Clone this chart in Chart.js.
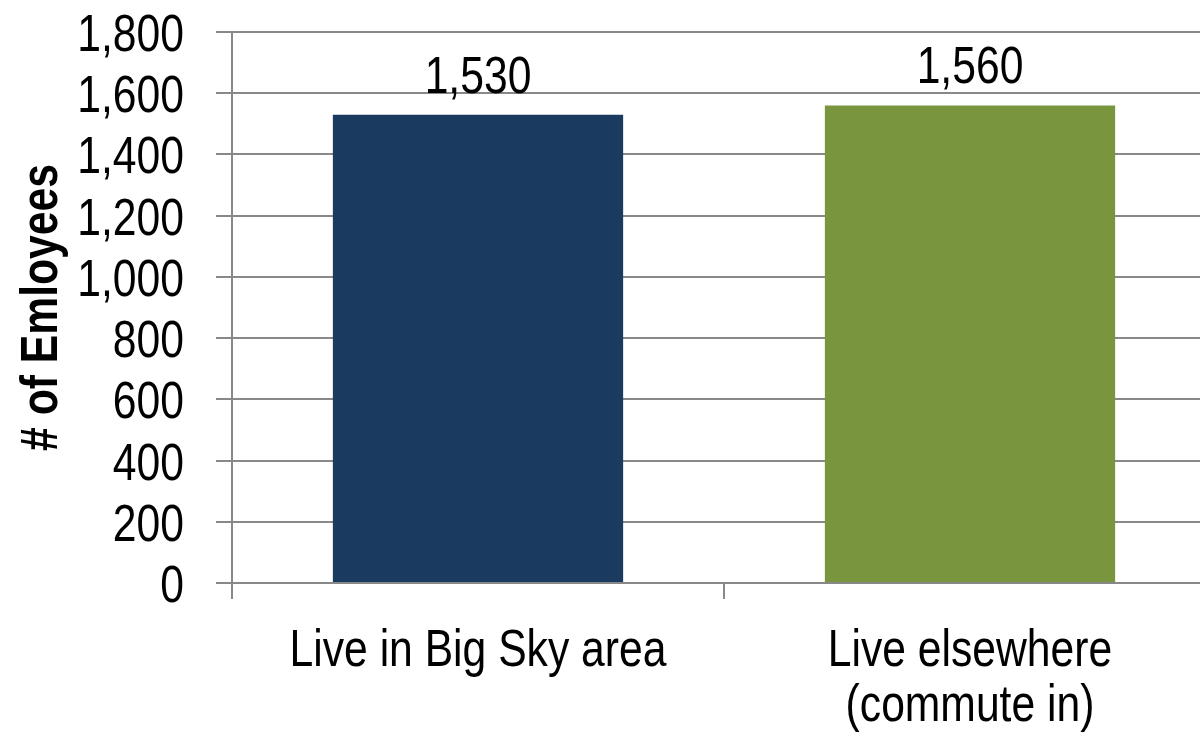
<!DOCTYPE html>
<html>
<head>
<meta charset="utf-8">
<script src="https://cdn.jsdelivr.net/npm/chart.js@4/dist/chart.umd.min.js"></script>
<style>
  html, body { margin: 0; padding: 0; background: #fff; overflow: hidden; }
  #wrap { width: 1216px; height: 735px; }
</style>
</head>
<body>
<div id="wrap"><canvas id="chart"></canvas></div>
<script>
// data
const categories = [["Live in Big Sky area"], ["Live elsewhere", "(commute in)"]];
const employees = [1530, 1560];
const barColors = ["#1b3a5f", "#79953e"];
const yTicks = [0, 200, 400, 600, 800, 1000, 1200, 1400, 1600, 1800];
const yTitle = "# of Emloyees";

const FONT = "'Liberation Sans', Arial, sans-serif";
const SIZE = 52;
const NARROW = 0.82;   // squeeze the face to a narrow width
const GRID = "#888888";

// draw horizontally condensed text
function narrowText(ctx, text, x, y, align, bold, angle) {
  ctx.save();
  ctx.font = (bold ? "bold " : "") + SIZE + "px " + FONT;
  ctx.fillStyle = "#000";
  ctx.textAlign = align;
  ctx.textBaseline = "alphabetic";
  ctx.translate(x, y);
  if (angle) ctx.rotate(angle);
  ctx.scale(NARROW, 1);
  ctx.fillText(text, 0, 0);
  ctx.restore();
}

// axis labels, title and bar values
const textLayer = {
  id: "textLayer",
  afterDraw(chart) {
    const ctx = chart.ctx;
    const area = chart.chartArea;
    const xs = chart.scales.x;
    const ys = chart.scales.y;

    yTicks.forEach(v => {
      narrowText(ctx, v.toLocaleString("en-US"), area.left - 48, ys.getPixelForValue(v) + 19, "right");
    });

    categories.forEach((lines, i) => {
      const cx = xs.getPixelForValue(i);
      lines.forEach((line, j) => {
        narrowText(ctx, line, cx, area.bottom + 83 + j * 55, "center");
      });
    });

    narrowText(ctx, yTitle, 57, (area.top + area.bottom) / 2, "center", true, -Math.PI / 2);

    const meta = chart.getDatasetMeta(0);
    meta.data.forEach((bar, i) => {
      narrowText(ctx, employees[i].toLocaleString("en-US"), bar.x, bar.y - 22, "center");
    });
  }
};

const ctx = document.getElementById("chart").getContext("2d");
new Chart(ctx, {
  type: "bar",
  data: {
    labels: categories,
    datasets: [{
      data: employees,
      backgroundColor: barColors,
      borderWidth: 0,
      categoryPercentage: 1,
      barPercentage: 0.59
    }]
  },
  options: {
    responsive: true,
    maintainAspectRatio: false,
    animation: false,
    layout: { padding: { top: 32, right: 0, left: 0, bottom: 0 } },
    plugins: {
      legend: { display: false },
      tooltip: { enabled: false }
    },
    scales: {
      x: {
        grid: {
          drawOnChartArea: false,
          drawTicks: true,
          tickLength: 16,
          color: GRID,
          lineWidth: 2
        },
        border: { display: true, color: GRID, width: 2 },
        ticks: { color: "rgba(0,0,0,0)", font: { size: 1 }, autoSkip: false, maxRotation: 0 },
        afterFit(scale) {
          scale.height = 152;
          scale.paddingLeft = 0;
          scale.paddingRight = 0;
        }
      },
      y: {
        min: 0,
        max: 1800,
        afterBuildTicks(scale) { scale.ticks = yTicks.map(v => ({ value: v })); },
        grid: {
          color: GRID,
          lineWidth: 2,
          tickLength: 16
        },
        border: { display: true, color: GRID, width: 2 },
        ticks: { color: "rgba(0,0,0,0)", font: { size: 1 }, autoSkip: false },
        afterFit(scale) {
          scale.width = 232;
          scale.paddingTop = 0;
          scale.paddingBottom = 0;
        }
      }
    }
  },
  plugins: [textLayer]
});
</script>
</body>
</html>
